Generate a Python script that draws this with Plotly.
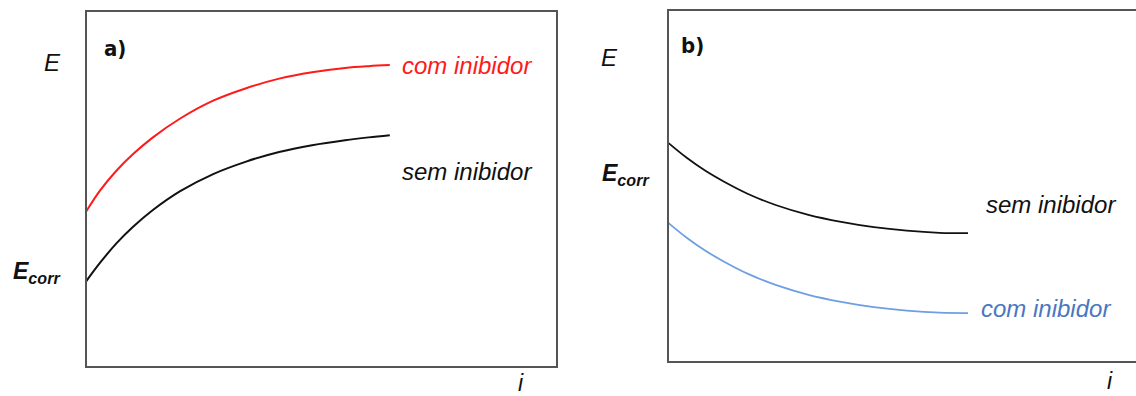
import plotly.graph_objects as go

W, H = 1136, 396

# Panel a) - anodic inhibitor: polarisation curve shifts to higher potential
i_a = [0.0, 0.03, 0.065, 0.10, 0.14, 0.20, 0.27, 0.34, 0.41, 0.48, 0.55, 0.60, 0.645]
E_a_sem = [0.240, 0.293, 0.348, 0.394, 0.439, 0.494, 0.542, 0.577, 0.604, 0.623, 0.637, 0.645, 0.651]
E_a_com = [0.436, 0.496, 0.552, 0.598, 0.643, 0.698, 0.748, 0.783, 0.810, 0.828, 0.840, 0.845, 0.848]

# Panel b) - cathodic inhibitor: polarisation curve shifts to lower potential
i_b = [0.0, 0.04, 0.08, 0.12, 0.17, 0.23, 0.30, 0.37, 0.44, 0.51, 0.58, 0.641]
E_b_sem = [0.623, 0.580, 0.543, 0.512, 0.478, 0.446, 0.418, 0.398, 0.383, 0.373, 0.367, 0.366]
E_b_com = [0.396, 0.353, 0.316, 0.285, 0.251, 0.219, 0.191, 0.171, 0.156, 0.146, 0.140, 0.139]

label_com = "com inibidor"
label_sem = "sem inibidor"

RED = "#ff1a1a"
BLACK = "#111111"
BLUE_LINE = "#6f9fe3"
BLUE_TEXT = "#4a77c0"
FRAME = "#555555"

SANS = "Liberation Sans, Arial, sans-serif"
NARROW = "Liberation Sans Narrow, DejaVu Sans Condensed, Arial Narrow, sans-serif"


def px(x):
    return x / W


def py(y):
    return 1 - y / H


fig = go.Figure()

fig.add_trace(go.Scatter(x=i_a, y=E_a_sem, mode="lines", line=dict(color=BLACK, width=2, shape="spline"),
                         xaxis="x", yaxis="y", hoverinfo="skip"))
fig.add_trace(go.Scatter(x=i_a, y=E_a_com, mode="lines", line=dict(color=RED, width=2, shape="spline"),
                         xaxis="x", yaxis="y", hoverinfo="skip"))
fig.add_trace(go.Scatter(x=i_b, y=E_b_sem, mode="lines", line=dict(color=BLACK, width=1.8, shape="spline"),
                         xaxis="x2", yaxis="y2", hoverinfo="skip"))
fig.add_trace(go.Scatter(x=i_b, y=E_b_com, mode="lines", line=dict(color=BLUE_LINE, width=1.8, shape="spline"),
                         xaxis="x2", yaxis="y2", hoverinfo="skip"))

hidden = dict(visible=False, showgrid=False, zeroline=False, fixedrange=True)

fig.update_layout(
    width=W, height=H,
    margin=dict(l=0, r=0, t=0, b=0),
    paper_bgcolor="white", plot_bgcolor="white",
    showlegend=False,
    xaxis=dict(domain=[px(86), px(557)], range=[0, 1], **hidden),
    yaxis=dict(domain=[py(367), py(11)], range=[0, 1], **hidden),
    xaxis2=dict(domain=[px(668), 1.0], range=[0, 1], anchor="y2", **hidden),
    yaxis2=dict(domain=[py(362), py(10)], range=[0, 1], anchor="x2", **hidden),
)

# Frames: panel a closed box, panel b runs off the right edge
fig.add_shape(type="rect", xref="x domain", yref="y domain", x0=0, x1=1, y0=0, y1=1,
              line=dict(color=FRAME, width=2), layer="above")
fig.add_shape(type="rect", xref="x2 domain", yref="y2 domain", x0=0, x1=1.05, y0=0, y1=1,
              line=dict(color=FRAME, width=2), layer="above")


def txt(x, y, text, size=24, color=BLACK, family=SANS, xanchor="left"):
    fig.add_annotation(x=px(x), y=py(y), xref="paper", yref="paper", text=text, showarrow=False,
                       xanchor=xanchor, yanchor="middle", font=dict(family=family, size=size, color=color))


# Axis titles
txt(52, 62, "<i>E</i>", size=24, xanchor="center")
txt(609, 58, "<i>E</i>", size=24, xanchor="center")
txt(11, 272, "<b><i>E<sub>corr</sub></i></b>", size=23)
txt(600, 174, "<b><i>E<sub>corr</sub></i></b>", size=23)
txt(521, 383, "<i>i</i>", size=23, xanchor="center")
txt(1110, 381, "<i>i</i>", size=23, xanchor="center")

# Panel letters
txt(102, 49, "<b>a)</b>", size=22, family=NARROW)
txt(679, 46, "<b>b)</b>", size=22, family=NARROW)

# Curve labels
txt(400, 66, f"<i>{label_com}</i>", color=RED)
txt(400, 171, f"<i>{label_sem}</i>")
txt(984, 204, f"<i>{label_sem}</i>")
txt(979, 308, f"<i>{label_com}</i>", color=BLUE_TEXT)

fig.write_html("out.html")
